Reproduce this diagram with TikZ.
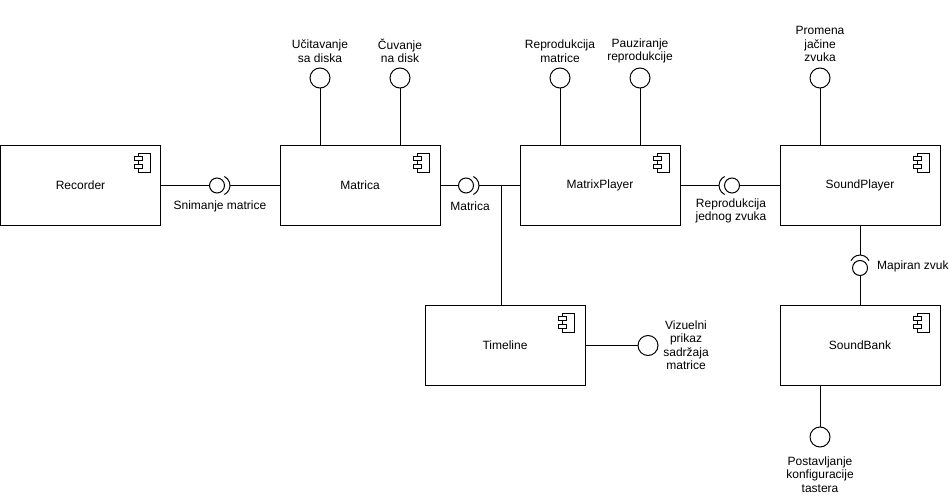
\documentclass[tikz,border=0pt]{standalone}
\usepackage{fontspec}
\setmainfont{Liberation Sans}
% small UML component glyph in the top right corner of a box
\newcommand\compicon[1]{%
  \draw[line width=0.8pt] ([shift={(-23,8)}]#1.north east) rectangle ([shift={(-11,27)}]#1.north east);
  \draw[line width=0.8pt,fill=white] ([shift={(-27,11)}]#1.north east) rectangle ([shift={(-19,15)}]#1.north east);
  \draw[line width=0.8pt,fill=white] ([shift={(-27,19)}]#1.north east) rectangle ([shift={(-19,23)}]#1.north east);}
\begin{document}
\begin{tikzpicture}[x=1pt,y=-1pt,
  every node/.style={font=\fontsize{12}{13.5}\selectfont},
  comp/.style={draw, line width=1pt, minimum width=160pt, minimum height=80pt, inner sep=0pt},
  ball/.style={draw, circle, line width=1pt, minimum size=20pt, inner sep=0pt},
  sock/.style={draw, circle, line width=1pt, minimum size=15pt, inner sep=0pt},
  lbl/.style={align=center, inner sep=0pt},
  wire/.style={line width=1pt}]
\useasboundingbox (0,0) rectangle (949,497);

% components
\node[comp] (rec) at (80.5,185.5) {Recorder};
\node[comp] (mat) at (360,185.5) {Matrica};
\node[comp] (mp)  at (600,185.5) {MatrixPlayer};
\node[comp] (sp)  at (860,185.5) {SoundPlayer};
\node[comp] (tl)  at (505,345.5) {Timeline};
\node[comp] (sb)  at (860,345.5) {SoundBank};
\compicon{rec}
\compicon{mat}
\compicon{mp}
\compicon{sp}
\compicon{tl}
\compicon{sb}

% assembly connectors (ball + socket)
\node[sock] (c1) at (217,185.5) {};
\draw[wire] (c1.center) ++(3,0) ++(-64:10) arc[start angle=-64, end angle=64, radius=10];
\coordinate (t1) at ([xshift=13pt]c1.center);
\draw[wire] (rec) -- (c1);
\draw[wire] (t1) -- (t1 -| mat.west);
\node[lbl] (l1) at (220,206) {Snimanje matrice};

\node[sock] (c2) at (466,185.5) {};
\draw[wire] (c2.center) ++(3,0) ++(-64:10) arc[start angle=-64, end angle=64, radius=10];
\coordinate (t2) at ([xshift=13pt]c2.center);
\draw[wire] (mat) -- (c2);
\draw[wire] (t2) -- (t2 -| mp.west);
\coordinate (j) at (501,185.5);
\draw[wire] (j) -- (j |- tl.north);
\node[lbl] (l2) at (470,206) {Matrica};

\node[sock] (c3) at (732,185.5) {};
\draw[wire] (c3.center) ++(-3,0) ++(116:10) arc[start angle=116, end angle=244, radius=10];
\coordinate (t3) at ([xshift=-13pt]c3.center);
\draw[wire] (mp.east) -- (t3);
\draw[wire] (c3) -- (sp);
\node[lbl] (l3) at (731,211) {Reprodukcija\\jednog zvuka};

\node[sock] (c4) at (860,268) {};
\draw[wire] (c4.center) ++(0,-3) ++(-154:10) arc[start angle=-154, end angle=-26, radius=10];
\coordinate (t4) at ([yshift=13pt]c4.center);
\draw[wire] (sp.south) -- (t4);
\draw[wire] (c4) -- (sb);
\node[lbl, anchor=west] (l4) at (877,266) {Mapiran zvuk};

% provided interfaces (lollipops)
\node[ball] (u1) at (320,78) {};
\draw[wire] (u1) -- (u1 |- mat.north);
\node[lbl] at (320,51) {Učitavanje\\sa diska};
\node[ball] (u2) at (400,78) {};
\draw[wire] (u2) -- (u2 |- mat.north);
\node[lbl] at (400,51) {Čuvanje\\na disk};
\node[ball] (u3) at (560,78) {};
\draw[wire] (u3) -- (u3 |- mp.north);
\node[lbl] at (560,51) {Reprodukcija\\matrice};
\node[ball] (u4) at (640,78) {};
\draw[wire] (u4) -- (u4 |- mp.north);
\node[lbl] at (640,51) {Pauziranje\\reprodukcije};
\node[ball] (u5) at (820,78) {};
\draw[wire] (u5) -- (u5 |- sp.north);
\node[lbl] at (820,44) {Promena\\jačine\\zvuka};
\node[ball] (u6) at (648,345.5) {};
\draw[wire] (tl) -- (u6);
\node[lbl] at (686,345) {Vizuelni\\prikaz\\sadržaja\\matrice};
\node[ball] (u7) at (820,437) {};
\draw[wire] (u7) -- (u7 |- sb.south);
\node[lbl] at (820,474.5) {Postavljanje\\konfiguracije\\tastera};
\end{tikzpicture}
\end{document}
